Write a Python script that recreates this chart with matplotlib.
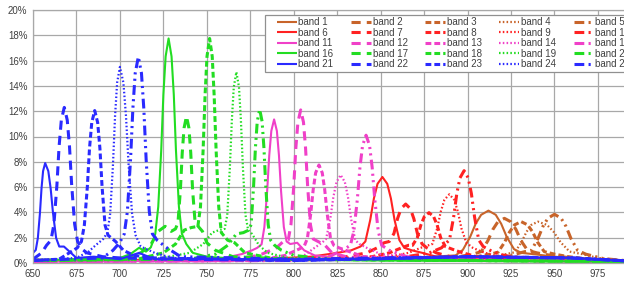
import matplotlib
matplotlib.use("Agg")
import matplotlib.pyplot as plt
from matplotlib.ticker import FuncFormatter
from matplotlib.patches import Rectangle

# ---------------- data (wavelength nm, response %) ----------------
x_ticks = [650, 675, 700, 725, 750, 775, 800, 825, 850, 875, 900, 925, 950, 975]
y_ticks = [0, 2, 4, 6, 8, 10, 12, 14, 16, 18, 20]

wl_01 = [650, 850, 880, 893.1, 897.3, 901.5, 904.65, 907.8, 912, 916.2, 919.35, 922.5, 926.7, 930.9, 938, 950, 970, 1000]
rs_01 = [0.2, 0.3, 0.5, 0.6, 1.04, 2.07, 3.1, 3.81, 4.14, 3.81, 3.1, 2.07, 1.1, 0.8, 0.7, 0.5, 0.3, 0.1]
wl_02 = [650, 870, 895, 903, 907.9, 911.7, 914.55, 917.4, 921.2, 925.0, 927.85, 930.7, 934.5, 940, 948, 960, 980, 1000]
rs_02 = [0.2, 0.3, 0.5, 0.7, 0.9, 1.77, 2.65, 3.25, 3.53, 3.25, 2.65, 1.77, 1.0, 0.8, 0.6, 0.4, 0.2, 0.1]
wl_03 = [650, 880, 905, 913, 917.5, 921.3, 924.15, 927.0, 930.8, 934.6, 937.45, 940.3, 944.1, 950, 958, 970, 990, 1000]
rs_03 = [0.2, 0.3, 0.5, 0.7, 0.85, 1.64, 2.45, 3.01, 3.27, 3.01, 2.45, 1.64, 0.9, 0.7, 0.5, 0.3, 0.15, 0.1]
wl_04 = [650, 890, 915, 922, 927.2, 931.0, 933.85, 936.7, 940.5, 945.7, 949.6, 953.5, 958.7, 966, 975, 990, 1000]
rs_04 = [0.2, 0.3, 0.5, 0.7, 0.85, 1.64, 2.45, 3.01, 3.27, 3.01, 2.45, 1.64, 0.9, 0.7, 0.4, 0.2, 0.1]
wl_05 = [650, 900, 925, 933, 936.7, 940.5, 943.35, 946.2, 950, 953.8, 956.65, 959.5, 963.3, 968, 978, 990, 1000]
rs_05 = [0.2, 0.3, 0.6, 0.9, 1.0, 1.93, 2.89, 3.54, 3.85, 3.54, 2.89, 1.93, 1.0, 0.7, 0.35, 0.2, 0.1]

wl_06 = [650, 780, 810, 825, 833, 838.4, 841.2, 844.0, 846.1, 848.2, 851, 853.8, 855.9, 858.0, 860.8, 863.6, 868, 874, 882, 900, 1000]
rs_06 = [0.2, 0.3, 0.5, 0.8, 1.0, 1.3, 1.7, 3.4, 5.1, 6.26, 6.8, 6.26, 5.1, 3.4, 1.8, 1.2, 1.0, 0.8, 0.5, 0.3, 0.1]
wl_07 = [650, 800, 830, 842, 848, 852, 854.95, 857.65, 859.7, 861.7, 864.4, 867.1, 869.1, 871.15, 873.85, 876.55, 882, 890, 920, 1000]
rs_07 = [0.2, 0.3, 0.5, 0.8, 1.2, 1.6, 1.7, 2.33, 3.5, 4.29, 4.66, 4.29, 3.5, 2.33, 1.5, 1.2, 0.8, 0.5, 0.3, 0.1]
wl_08 = [650, 820, 845, 855, 862, 866, 868.35, 871.05, 873.1, 875.1, 877.8, 880.5, 882.5, 884.55, 887.25, 891, 895, 905, 930, 1000]
rs_08 = [0.2, 0.3, 0.5, 0.8, 1.2, 1.4, 1.4, 1.99, 2.99, 3.66, 3.98, 3.66, 2.99, 1.99, 1.3, 1.1, 0.9, 0.5, 0.3, 0.1]
wl_09 = [650, 830, 855, 866, 873, 879.7, 882.5, 884.6, 886.7, 889.5, 892.3, 894.4, 896.5, 899.3, 903, 908, 915, 940, 1000]
rs_09 = [0.2, 0.3, 0.5, 0.8, 1.2, 1.5, 2.72, 4.07, 5.0, 5.43, 5.0, 4.07, 2.72, 1.6, 1.2, 0.9, 0.6, 0.3, 0.1]
wl_10 = [650, 840, 865, 878, 885, 889.6, 892.0, 893.8, 895.6, 898, 900.4, 902.2, 904.0, 906.4, 909, 913, 918, 925, 950, 1000]
rs_10 = [0.2, 0.3, 0.5, 0.8, 1.2, 1.83, 3.65, 5.48, 6.72, 7.3, 6.72, 5.48, 3.65, 1.83, 1.3, 1.0, 0.7, 0.5, 0.3, 0.1]

wl_11 = [650, 740, 760, 770, 776, 779, 781.5, 783.1, 784.7, 785.9, 787.1, 788.7, 790.3, 791.5, 792.7, 794.3, 795.9, 798, 802, 806, 812, 830, 1000]
rs_11 = [0.1, 0.2, 0.4, 0.7, 1.0, 1.2, 1.48, 2.84, 5.68, 8.5, 10.44, 11.35, 10.44, 8.5, 5.68, 2.84, 1.7, 1.5, 1.6, 1.0, 0.6, 0.3, 0.1]
wl_12 = [650, 760, 780, 790, 794, 796.8, 798.4, 800.0, 801.2, 802.4, 804, 805.6, 806.8, 808.0, 809.6, 811.2, 814, 818, 822, 830, 850, 1000]
rs_12 = [0.1, 0.2, 0.6, 1.2, 1.7, 1.8, 3.03, 6.05, 9.08, 11.13, 12.1, 11.13, 9.08, 6.05, 3.03, 1.9, 1.7, 1.4, 0.8, 0.5, 0.3, 0.1]
wl_13 = [650, 780, 795, 803, 805.95, 807.85, 809.75, 811.2, 812.6, 814.5, 816.4, 817.8, 819.25, 821.15, 823.05, 826, 830, 840, 870, 1000]
rs_13 = [0.1, 0.2, 0.6, 1.1, 1.3, 1.94, 3.88, 5.81, 7.13, 7.75, 7.13, 5.81, 3.88, 1.94, 1.4, 1.2, 1.0, 0.5, 0.3, 0.1]
wl_14 = [650, 790, 805, 812, 816.2, 818.6, 821.0, 822.8, 824.6, 827, 829.4, 831.2, 833.0, 835.4, 837.8, 842, 850, 880, 1000]
rs_14 = [0.1, 0.2, 0.5, 1.2, 1.6, 1.9, 3.48, 5.22, 6.4, 6.96, 6.4, 5.22, 3.48, 1.8, 1.5, 1.2, 0.7, 0.3, 0.1]
wl_15 = [650, 800, 820, 828, 832.6, 834.6, 836.6, 838.1, 839.6, 841.6, 843.6, 845.1, 846.6, 848.6, 850.6, 855, 865, 900, 1000]
rs_15 = [0.1, 0.2, 0.5, 1.0, 1.4, 2.53, 5.05, 7.58, 9.29, 10.1, 9.29, 7.58, 5.05, 2.53, 1.4, 1.0, 0.5, 0.2, 0.1]

wl_16 = [650, 700, 706, 711, 715, 717.8, 720.35, 722.05, 723.75, 725.0, 726.3, 728, 729.7, 731.0, 732.25, 733.95, 735.65, 738.2, 742, 750, 770, 850, 1000]
rs_16 = [0.2, 0.4, 0.7, 1.2, 0.9, 1.24, 2.31, 4.44, 8.88, 13.3, 16.33, 17.75, 16.33, 13.3, 8.88, 4.44, 2.31, 1.5, 0.8, 0.5, 0.3, 0.2, 0.1]
wl_17 = [650, 700, 712, 718, 722, 726, 729.5, 732.0, 733.4, 734.8, 735.85, 736.9, 738.3, 739.7, 740.75, 741.8, 743.2, 745, 747.5, 750, 755, 765, 800, 1000]
rs_17 = [0.2, 0.3, 0.8, 1.5, 2.5, 2.9, 2.5, 2.7, 3.2, 5.8, 8.7, 10.67, 11.6, 10.67, 8.7, 5.8, 3.3, 2.9, 2.5, 1.6, 1.0, 0.5, 0.3, 0.1]
wl_18 = [650, 710, 725, 732, 737, 741, 744.85, 746.35, 747.85, 749.0, 750.1, 751.6, 753.1, 754.2, 755.35, 756.85, 758.35, 762, 766, 772, 790, 1000]
rs_18 = [0.2, 0.3, 0.8, 1.5, 2.6, 2.8, 2.9, 4.44, 8.88, 13.3, 16.33, 17.75, 16.33, 13.3, 8.88, 4.44, 2.4, 1.8, 1.6, 0.8, 0.3, 0.1]
wl_19 = [650, 720, 740, 748, 753, 757, 760.25, 761.75, 763.25, 764.4, 765.5, 767, 768.5, 769.6, 770.75, 772.25, 773.75, 776, 780, 785, 800, 1000]
rs_19 = [0.2, 0.3, 0.8, 1.5, 2.4, 2.6, 2.7, 3.78, 7.55, 11.3, 13.9, 15.1, 13.9, 11.3, 7.55, 3.78, 2.6, 2.3, 1.4, 0.8, 0.3, 0.1]
wl_20 = [650, 740, 755, 762, 767, 771, 774.1, 775.5, 776.9, 777.95, 779.0, 780.4, 781.8, 782.85, 783.9, 785.3, 786.7, 789, 793, 800, 820, 1000]
rs_20 = [0.2, 0.3, 0.7, 1.4, 2.3, 2.4, 2.6, 3.04, 6.08, 9.1, 11.18, 12.15, 11.18, 9.1, 6.08, 3.04, 1.8, 1.4, 1.0, 0.6, 0.3, 0.1]

wl_21 = [650, 651.6, 652.8, 654.0, 654.9, 655.8, 657, 658.8, 660.15, 661.5, 663.3, 665.1, 667.8, 671, 675, 685, 700, 711, 720, 760, 850, 900, 960, 1000]
rs_21 = [0.8, 1.03, 1.98, 3.95, 5.9, 7.27, 7.9, 7.27, 5.9, 3.95, 1.98, 1.3, 1.3, 0.9, 0.4, 0.5, 0.3, 0.8, 0.3, 0.3, 0.3, 0.5, 0.4, 0.1]
wl_22 = [650, 655, 657.8, 660.35, 662.05, 663.75, 665.0, 666.3, 668, 669.7, 671.0, 672.25, 673.95, 675.65, 678.2, 681, 690, 700, 730, 800, 900, 960, 1000]
rs_22 = [0.3, 0.8, 1.4, 1.8, 3.08, 6.15, 9.2, 11.3, 12.3, 11.3, 9.2, 6.15, 3.08, 1.7, 1.1, 0.8, 0.5, 0.4, 0.3, 0.2, 0.5, 0.4, 0.1]
wl_23 = [650, 665, 672, 675.5, 677.85, 679.55, 681.25, 682.5, 683.8, 685.5, 687.2, 688.5, 689.75, 691.45, 693.15, 697.5, 702, 708, 720, 800, 900, 960, 1000]
rs_23 = [0.2, 0.3, 0.9, 1.2, 1.7, 3.0, 6.0, 9.05, 11.1, 12.05, 11.1, 9.05, 6.0, 3.0, 2.2, 1.7, 1.0, 0.6, 0.4, 0.2, 0.5, 0.4, 0.1]
wl_24 = [650, 675, 682, 686, 690.4, 692.8, 694.4, 696.0, 697.2, 698.4, 700, 702, 703.5, 705, 707, 709, 712, 720, 730, 800, 900, 960, 1000]
rs_24 = [0.2, 0.4, 0.9, 1.4, 1.9, 2.4, 3.9, 7.75, 11.6, 14.26, 15.5, 14.26, 11.6, 7.75, 3.9, 2.2, 1.3, 0.8, 0.4, 0.2, 0.5, 0.4, 0.1]
wl_25 = [650, 690, 696, 699.8, 702.5, 704.3, 706.1, 707.45, 708.8, 710.6, 712.4, 713.75, 715.1, 716.9, 718.7, 721.4, 727, 735, 800, 900, 960, 1000]
rs_25 = [0.2, 0.4, 1.0, 1.6, 2.3, 4.08, 8.15, 12.2, 15.0, 16.3, 15.0, 12.2, 8.15, 4.08, 2.3, 1.8, 1.2, 0.5, 0.3, 0.5, 0.4, 0.1]

band_labels = ["band %d" % i for i in range(1, 26)]
group_colors = ["#C8642A", "#FF2222", "#F040C8", "#22DD22", "#2A2AFF"]

# (linewidth, dash pattern) for the position within each group of five bands
styles = [
    (1.5, None),                            # solid
    (2.2, (3.0, 2.0)),                      # long dash
    (2.2, (1.9, 1.0)),                      # short dash
    (1.6, (0.7, 1.0)),                      # dotted
    (2.2, (3.2, 1.4, 0.7, 1.4, 0.7, 1.4)),  # dash-dot-dot
]

wls = [wl_01, wl_02, wl_03, wl_04, wl_05, wl_06, wl_07, wl_08, wl_09, wl_10,
       wl_11, wl_12, wl_13, wl_14, wl_15, wl_16, wl_17, wl_18, wl_19, wl_20,
       wl_21, wl_22, wl_23, wl_24, wl_25]
rss = [rs_01, rs_02, rs_03, rs_04, rs_05, rs_06, rs_07, rs_08, rs_09, rs_10,
       rs_11, rs_12, rs_13, rs_14, rs_15, rs_16, rs_17, rs_18, rs_19, rs_20,
       rs_21, rs_22, rs_23, rs_24, rs_25]

plt.rcParams['font.family'] = ['Liberation Sans', 'DejaVu Sans']

W, H = 624, 282
fig = plt.figure(figsize=(W / 100, H / 100), dpi=100)
ax = fig.add_axes([33 / W, 19 / H, (641.4 - 33) / W, 253 / H])

handles = []
for i in range(25):
    lw, dash = styles[i % 5]
    color = group_colors[i // 5]
    line, = ax.plot(wls[i], rss[i], color=color, lw=lw, label=band_labels[i],
                    solid_capstyle='butt', dash_capstyle='butt',
                    solid_joinstyle='round', dash_joinstyle='round')
    if dash is not None:
        line.set_dashes(dash)
    handles.append(line)

ax.set_xlim(650, 1000)
ax.set_ylim(0, 20)
ax.set_xticks(x_ticks)
ax.set_yticks(y_ticks)
ax.yaxis.set_major_formatter(FuncFormatter(lambda v, p: "%d%%" % v))
ax.grid(True, color="#A8A8A8", lw=0.9)
ax.set_axisbelow(True)
for s in ax.spines.values():
    s.set_color("#A8A8A8")
    s.set_linewidth(0.9)
ax.tick_params(length=0, labelsize=7, colors="#404040", pad=4)

# legend frame drawn separately (box runs past the right edge, as in the original)
frame = Rectangle((265 / W, 1 - 72 / H), 500 / W, 57 / H, transform=fig.transFigure,
                  facecolor="white", edgecolor="#909090", lw=0.9, zorder=5)
fig.patches.append(frame)

order = [r * 5 + c for c in range(5) for r in range(5)]
leg = fig.legend([handles[k] for k in order], [band_labels[k] for k in order],
                 loc='upper left', bbox_to_anchor=(277 / W, 1 - 17.0 / H),
                 ncol=5, fontsize=7, frameon=False,
                 handlelength=2.05, handletextpad=0.15, columnspacing=1.82,
                 labelspacing=0.06, borderpad=0.0, borderaxespad=0)
leg.set_zorder(6)
for t in leg.get_texts():
    t.set_color("#404040")

fig.savefig("out.png", dpi=100)
